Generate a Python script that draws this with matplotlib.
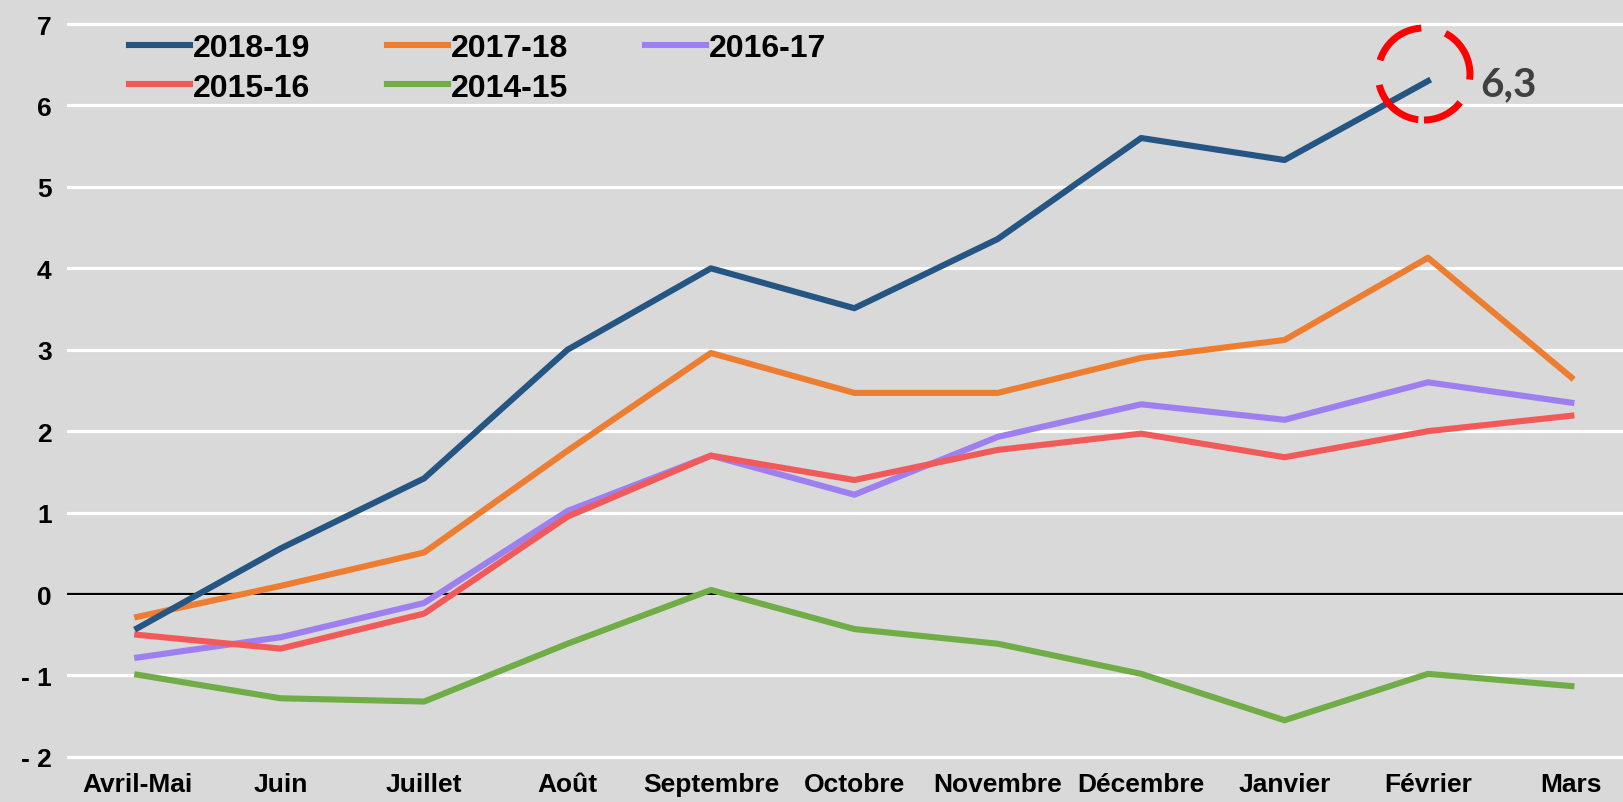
import matplotlib

matplotlib.use("Agg")
import matplotlib.pyplot as plt
import numpy as np
from matplotlib.patches import Circle
from matplotlib.transforms import ScaledTranslation

months = ["Avril-Mai", "Juin", "Juillet", "Août", "Septembre", "Octobre",
          "Novembre", "Décembre", "Janvier", "Février", "Mars"]

s2018_19 = [-0.42, 0.56, 1.42, 3.0, 4.0, 3.51, 4.36, 5.6, 5.33, 6.3, np.nan]
s2017_18 = [-0.28, 0.1, 0.51, 1.76, 2.96, 2.47, 2.47, 2.9, 3.12, 4.13, 2.66]
s2016_17 = [-0.78, -0.53, -0.11, 1.02, 1.70, 1.22, 1.93, 2.33, 2.14, 2.6, 2.35]
s2015_16 = [-0.5, -0.67, -0.24, 0.95, 1.70, 1.40, 1.77, 1.97, 1.68, 2.0, 2.19]
s2014_15 = [-0.99, -1.28, -1.32, -0.61, 0.05, -0.43, -0.61, -0.98, -1.55, -0.98, -1.13]

y_ticks = [-2, -1, 0, 1, 2, 3, 4, 5, 6, 7]
y_tick_labels = ["- 2", "- 1", "0", "1", "2", "3", "4", "5", "6", "7"]

highlight_index = 9
highlight_label = "6,3"

BG = "#d9d9d9"
FONT = "Liberation Sans"

fig = plt.figure(figsize=(16.23, 8.03), dpi=100, facecolor=BG)
ax = fig.add_axes([67 / 1623, 0.046, 1 - 67 / 1623, 0.933])
ax.set_facecolor(BG)

x = np.arange(len(months))
lw = 4.4
lines = {}
lines["2016-17"], = ax.plot(x, s2016_17, color="#9d7ff0", lw=lw, label="2016-17", zorder=3)
lines["2015-16"], = ax.plot(x, s2015_16, color="#f25a5a", lw=lw, label="2015-16", zorder=3)
lines["2014-15"], = ax.plot(x, s2014_15, color="#70ad47", lw=lw, label="2014-15", zorder=3)
lines["2017-18"], = ax.plot(x, s2017_18, color="#ed7d31", lw=lw, label="2017-18", zorder=3)
lines["2018-19"], = ax.plot(x, s2018_19, color="#245583", lw=lw, label="2018-19", zorder=4)

ax.set_xlim(-0.49, 10.36)
ax.set_ylim(-2.1, 7.1)
ax.set_yticks(y_ticks)
ax.set_yticklabels(y_tick_labels)
ax.set_xticks(x)
ax.set_xticklabels(months)
ax.grid(axis="y", color="white", lw=2.3, zorder=1)
ax.axhline(0, color="black", lw=1.6, zorder=2)
ax.tick_params(length=0, pad=11)
ax.tick_params(axis="x", pad=5)
for label in ax.get_xticklabels() + ax.get_yticklabels():
    label.set_fontfamily(FONT)
    label.set_fontweight("bold")
    label.set_fontsize(19)
for spine in ax.spines.values():
    spine.set_visible(False)

order = ["2018-19", "2015-16", "2017-18", "2014-15", "2016-17"]
ax.legend([lines[k] for k in order], order, ncol=3, frameon=False,
          loc="upper left", bbox_to_anchor=(113 / 1623, 1 - 18 / 803),
          bbox_transform=fig.transFigure, borderpad=0, handlelength=1.9,
          handletextpad=0.1, columnspacing=2.4, labelspacing=0.3,
          prop={"family": FONT, "weight": "bold", "size": 23})

# dashed circle around the last 2018-19 value
px, py = x[highlight_index], s2018_19[highlight_index]
circle_tf = fig.dpi_scale_trans + ScaledTranslation(px, py, ax.transData)
ax.add_patch(Circle((-0.04, 0.07), 0.46, transform=circle_tf, fill=False,
                    edgecolor="#ff0000", lw=5, linestyle=(2, (8, 3.6)), zorder=5,
                    clip_on=False))
ax.annotate(highlight_label, (px, py), xytext=(38, -2), textcoords="offset points",
            va="center", ha="left", fontsize=29, fontweight="bold",
            color="#404040", family="Lato")

fig.savefig("out.png", dpi=100, facecolor=BG)
